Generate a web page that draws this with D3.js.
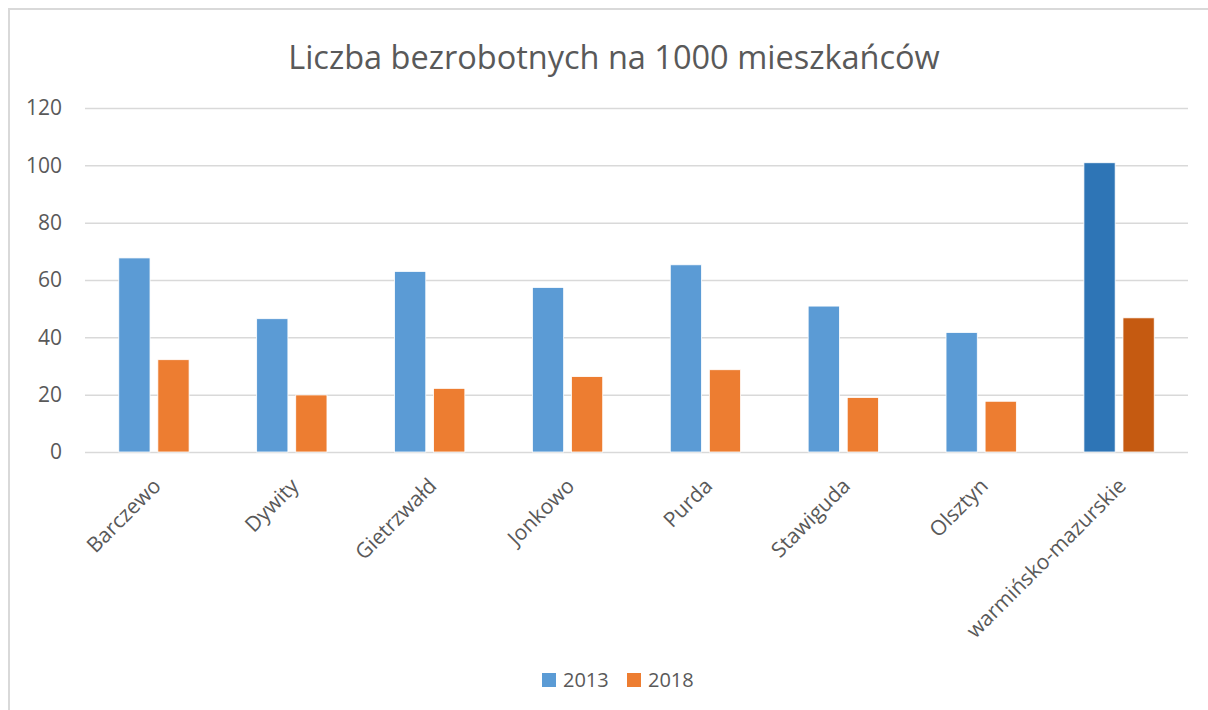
<!DOCTYPE html>
<meta charset="utf-8" />
<title>Liczba bezrobotnych na 1000 mieszkańców</title>
<style>
  body { margin: 0; background: #fff; }
  text { font-family: "Open Sans", sans-serif; fill: #595959; }
  .grid line { stroke: #d9d9d9; stroke-width: 1.5px; }
  .grid path { display: none; }
</style>
<body>
<svg width="1208" height="710"></svg>
<script src="https://d3js.org/d3.v7.min.js"></script>
<script>
  const categories = ["Barczewo", "Dywity", "Gietrzwałd", "Jonkowo", "Purda", "Stawiguda", "Olsztyn", "warmińsko-mazurskie"];
  const series = ["2013", "2018"];
  const values2013 = [67.7, 46.5, 63.0, 57.4, 65.3, 50.9, 41.7, 100.9];
  const values2018 = [32.2, 19.9, 22.2, 26.3, 28.7, 19.0, 17.7, 46.8];
  const yTicks = [0, 20, 40, 60, 80, 100, 120];

  const colors = { "2013": "#5b9bd5", "2018": "#ed7d31" };
  const highlight = { "2013": "#2e75b6", "2018": "#c55a11" };

  const svg = d3.select("svg");

  // chart border (right and bottom edges fall outside the picture)
  svg.append("rect")
    .attr("x", 9).attr("y", 9)
    .attr("width", 1220).attr("height", 730)
    .attr("fill", "none")
    .attr("stroke", "#d9d9d9")
    .attr("stroke-width", 2);

  const plotL = 85, plotR = 1188, plotT = 108, plotB = 452;

  const x0 = d3.scaleBand().domain(categories).range([plotL, plotR])
    .paddingInner(0.49).paddingOuter(0.245);
  const x1 = d3.scaleBand().domain(series).range([0, x0.bandwidth()])
    .paddingInner(0.2);
  const y = d3.scaleLinear().domain([0, 120]).range([plotB, plotT]);

  // gridlines + y labels
  svg.append("g").attr("class", "grid")
    .attr("transform", `translate(${plotL},0)`)
    .call(d3.axisLeft(y).tickValues(yTicks).tickSize(-(plotR - plotL)).tickFormat(""));

  svg.selectAll("text.ylab")
    .data(yTicks)
    .enter()
    .append("text")
    .attr("class", "ylab")
    .attr("x", 62)
    .attr("y", d => y(d))
    .attr("dy", "0.35em")
    .attr("text-anchor", "end")
    .style("font-size", "21px")
    .text(d => d);

  // bars
  const rows = categories.map((c, i) => ({ cat: c, i: i, vals: [values2013[i], values2018[i]] }));
  const grp = svg.selectAll("g.cat")
    .data(rows)
    .enter()
    .append("g")
    .attr("class", "cat")
    .attr("transform", d => `translate(${x0(d.cat)},0)`);

  grp.selectAll("rect")
    .data(d => series.map((s, j) => ({ s: s, v: d.vals[j], last: d.i === categories.length - 1 })))
    .enter()
    .append("rect")
    .attr("x", d => x1(d.s))
    .attr("width", x1.bandwidth())
    .attr("y", d => y(d.v))
    .attr("height", d => y(0) - y(d.v))
    .attr("fill", d => d.last ? highlight[d.s] : colors[d.s])
    .attr("stroke", "#fff")
    .attr("stroke-width", 0.8);

  // category labels, rotated
  svg.selectAll("text.xlab")
    .data(categories)
    .enter()
    .append("text")
    .attr("class", "xlab")
    .attr("transform", d => `translate(${x0(d) + x0.bandwidth() / 2 + 3},482) rotate(-45)`)
    .attr("text-anchor", "end")
    .attr("dy", "0.35em")
    .style("font-size", "21px")
    .text(d => d);

  // title
  svg.append("text")
    .attr("x", 614)
    .attr("y", 69)
    .attr("text-anchor", "middle")
    .style("font-size", "32.5px")
    .text("Liczba bezrobotnych na 1000 mieszkańców");

  // legend
  const legend = svg.selectAll("g.legend")
    .data(series)
    .enter()
    .append("g")
    .attr("class", "legend")
    .attr("transform", (d, i) => `translate(${542 + i * 85},673)`);

  legend.append("rect")
    .attr("width", 14).attr("height", 14)
    .attr("fill", d => colors[d]);

  legend.append("text")
    .attr("x", 21)
    .attr("y", 7)
    .attr("dy", "0.35em")
    .style("font-size", "20px")
    .text(d => d);
</script>
</body>
